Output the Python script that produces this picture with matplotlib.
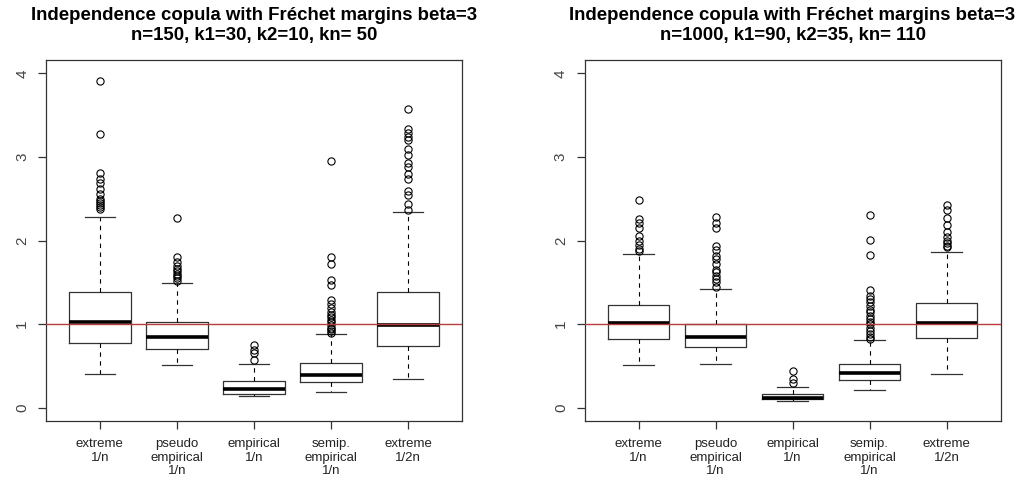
import numpy as np
from matplotlib import pyplot as plt
from matplotlib import transforms

labels = ["extreme\n1/n", "pseudo\nempirical\n1/n", "empirical\n1/n",
          "semip.\nempirical\n1/n", "extreme\n1/2n"]

titles = ["Independence copula with Fréchet margins beta=3\nn=150, k1=30, k2=10, kn= 50",
          "Independence copula with Fréchet margins beta=3\nn=1000, k1=90, k2=35, kn= 110"]

# n=150
left_whislo = [0.40, 0.515, 0.136, 0.188, 0.34]
left_q1 = [0.78, 0.707, 0.168, 0.308, 0.743]
left_med = [1.02, 0.847, 0.228, 0.388, 0.987]
left_q3 = [1.387, 1.027, 0.32, 0.54, 1.387]
left_whishi = [2.286, 1.49, 0.527, 0.887, 2.338]
left_fliers = [
	[2.38, 2.40, 2.42, 2.45, 2.47, 2.50, 2.56, 2.62, 2.69, 2.74, 2.81, 3.27, 3.91],
	[1.52, 1.55, 1.57, 1.60, 1.63, 1.66, 1.70, 1.74, 1.80, 2.27],
	[0.575, 0.655, 0.695, 0.745],
	[0.90, 0.92, 0.94, 0.96, 0.99, 1.02, 1.05, 1.08, 1.11, 1.14, 1.19, 1.24, 1.29,
	 1.47, 1.53, 1.72, 1.80, 2.95],
	[2.36, 2.44, 2.54, 2.59, 2.74, 2.80, 2.88, 2.93, 3.02, 3.09, 3.20, 3.24, 3.29, 3.33, 3.57],
]

# n=1000
right_whislo = [0.515, 0.527, 0.076, 0.208, 0.408]
right_q1 = [0.827, 0.727, 0.10, 0.328, 0.835]
right_med = [1.019, 0.847, 0.12, 0.416, 1.015]
right_q3 = [1.227, 1.007, 0.16, 0.527, 1.259]
right_whishi = [1.838, 1.415, 0.248, 0.807, 1.866]
right_fliers = [
	[1.87, 1.90, 1.95, 2.00, 2.05, 2.15, 2.21, 2.26, 2.48],
	[1.45, 1.50, 1.54, 1.58, 1.62, 1.65, 1.72, 1.78, 1.82, 1.89, 1.94, 2.15, 2.21, 2.28],
	[0.30, 0.34, 0.44],
	[0.82, 0.85, 0.88, 0.92, 0.96, 1.00, 1.03, 1.06, 1.10, 1.14, 1.17, 1.22, 1.26, 1.30,
	 1.34, 1.41, 1.83, 2.01, 2.31],
	[1.92, 1.94, 1.97, 2.00, 2.04, 2.10, 2.19, 2.27, 2.36, 2.43],
]

plt.rcParams['font.family'] = ['Liberation Sans', 'DejaVu Sans']

def stats(whislo, q1, med, q3, whishi, fliers):
	out = []
	for i in range(len(med)):
		out.append(dict(whislo=whislo[i], q1=q1[i], med=med[i], q3=q3[i],
		                whishi=whishi[i], fliers=fliers[i]))
	return out

panels = [stats(left_whislo, left_q1, left_med, left_q3, left_whishi, left_fliers),
          stats(right_whislo, right_q1, right_med, right_q3, right_whishi, right_fliers)]

fig = plt.figure(figsize=(10.22, 4.83), dpi=100)
rects = [[0.045, 0.128, 0.407, 0.748], [0.572, 0.128, 0.407, 0.748]]
edge = "#333333"
# labels sit a few pixels right of their ticks in the original
shift = transforms.ScaledTranslation(4 / 100, 0, fig.dpi_scale_trans)
for k in range(2):
	ax = fig.add_axes(rects[k])
	pos = np.arange(1, 6)
	ax.bxp(panels[k], positions=pos, widths=0.8, showfliers=True,
	       boxprops=dict(color=edge, linewidth=0.9),
	       whiskerprops=dict(color="black", linewidth=0.8, linestyle=(0, (4, 4))),
	       capprops=dict(color=edge, linewidth=0.9),
	       medianprops=dict(color="black", linewidth=2.6, solid_capstyle="butt"),
	       flierprops=dict(marker="o", markerfacecolor="none", markeredgecolor="black",
	                       markersize=5.2, markeredgewidth=0.8))
	ax.axhline(1, color="#b83c3c", linewidth=1.0, zorder=5)
	ax.set_xlim(0.3, 5.7)
	ax.set_ylim(-0.16, 4.16)
	ax.set_yticks([0, 1, 2, 3, 4])
	ax.set_yticklabels(["0", "1", "2", "3", "4"], rotation=90, va="center",
	                   fontsize=11, color="#444444")
	ax.set_xticks(pos)
	ax.set_xticklabels(labels, fontsize=9.5, linespacing=1.2, color="#222222")
	for t in ax.get_xticklabels():
		t.set_transform(t.get_transform() + shift)
	ax.tick_params(axis="both", direction="out", length=6, width=0.9, color=edge)
	ax.tick_params(axis="y", pad=6)
	ax.tick_params(axis="x", pad=6)
	for s in ax.spines.values():
		s.set_color(edge)
		s.set_linewidth(0.9)
	ax.set_title(titles[k], fontsize=13.4, fontweight="bold", linespacing=1.3, pad=14)

fig.savefig("out.png", dpi=100)
